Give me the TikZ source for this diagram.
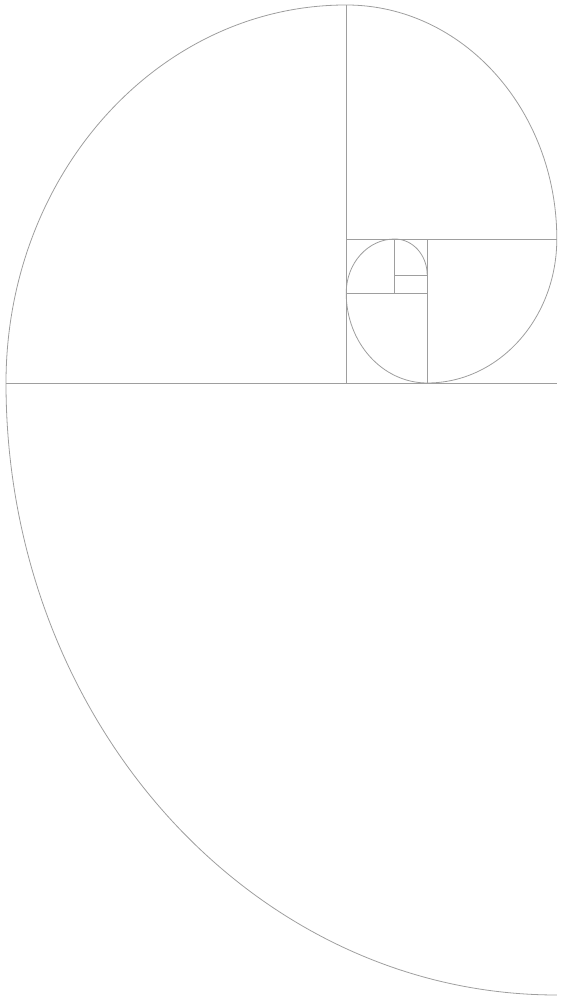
\documentclass[tikz,border=0pt]{standalone}
\begin{document}
\begin{tikzpicture}[x=16.2pt,y=18pt,
  fib/.style={draw=black!38,line width=0.8pt}]
\useasboundingbox (-6pt,-5pt) rectangle (557pt,995pt);
% dividing lines
\draw[fib] (0,34) -- (34,34);
\draw[fib] (21,34) -- (21,55);
\draw[fib] (21,42) -- (34,42);
\draw[fib] (26,34) -- (26,42);
\draw[fib] (21,39) -- (26,39);
\draw[fib] (24,39) -- (24,42);
\draw[fib] (24,40) -- (26,40);
% spiral
\draw[fib] (34,0) arc[start angle=270,end angle=180,x radius=34,y radius=34]
  arc[start angle=180,end angle=90,x radius=21,y radius=21]
  arc[start angle=90,end angle=0,x radius=13,y radius=13]
  arc[start angle=0,end angle=-90,x radius=8,y radius=8]
  arc[start angle=-90,end angle=-180,x radius=5,y radius=5]
  arc[start angle=180,end angle=90,x radius=3,y radius=3]
  arc[start angle=90,end angle=0,x radius=2,y radius=2];
\end{tikzpicture}
\end{document}
